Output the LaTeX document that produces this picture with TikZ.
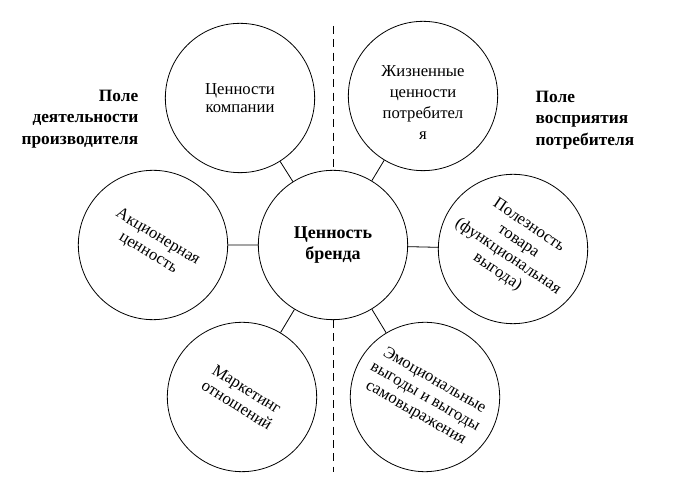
\documentclass[tikz,border=0pt]{standalone}
\usepackage{fontspec}
\setmainfont{Liberation Serif}
\begin{document}
\begin{tikzpicture}[x=0.75pt, y=-0.75pt,
        valuecircle/.style={draw, circle, line width=0.6pt, minimum size=112pt, inner sep=0pt, align=center, font=\fontsize{12.5}{14}\selectfont},
        fieldlabel/.style={font=\bfseries\fontsize{13}{16}\selectfont},
        link/.style={line width=0.6pt}]
        % Page frame
        \useasboundingbox (0,0) rectangle (676,498);
        % Central circle
        \node[valuecircle, font=\bfseries\fontsize{13.5}{15.5}\selectfont] (brand) at (333,245) {Ценность\\бренда};
        % Producer side (left)
        \node[valuecircle] (company) at (240,98) {Ценности\\компании};
        \node[valuecircle, rotate=-31] (stock) at (153,245) {Акционерная\\ценность};
        \node[valuecircle, rotate=-32] (marketing) at (242,397) {Маркетинг\\отношений};
        % Consumer side (right)
        \node[valuecircle] (life) at (423,96) {};
        \node[align=center, font=\fontsize{12.5}{15.75}\selectfont] (lifetext) at ([yshift=-5pt]life.center) {Жизненные\\ценности\\потребител\\я};
        \node[valuecircle, rotate=-34] (utility) at (513,249) {Полезность\\товара\\(функциональная\\выгода)};
        \node[valuecircle, rotate=-30] (emotion) at (425,397) {Эмоциональные\\выгоды и выгоды\\самовыражения};
        % Links to the centre
        \draw[link] (brand) -- (company);
        \draw[link] (brand) -- (stock);
        \draw[link] (brand) -- (marketing);
        \draw[link] (brand) -- (life);
        \draw[link] (brand) -- (utility);
        \draw[link] (brand) -- (emotion);
        % Dividing line
        \coordinate (divtop) at (333,26);
        \coordinate (divbot) at (333,472);
        \draw[dashed, dash pattern=on 6pt off 4pt, line width=0.6pt] (divtop) -- (brand.north);
        \draw[dashed, dash pattern=on 6pt off 4pt, line width=0.6pt] (brand.south) -- (divbot);
        % Field labels
        \node[fieldlabel, align=right, anchor=east] (producer) at (143,119) {Поле\\деятельности\\производителя};
        \node[fieldlabel, align=left, anchor=west] (consumer) at (531,120) {Поле\\восприятия\\потребителя};
\end{tikzpicture}
\end{document}
